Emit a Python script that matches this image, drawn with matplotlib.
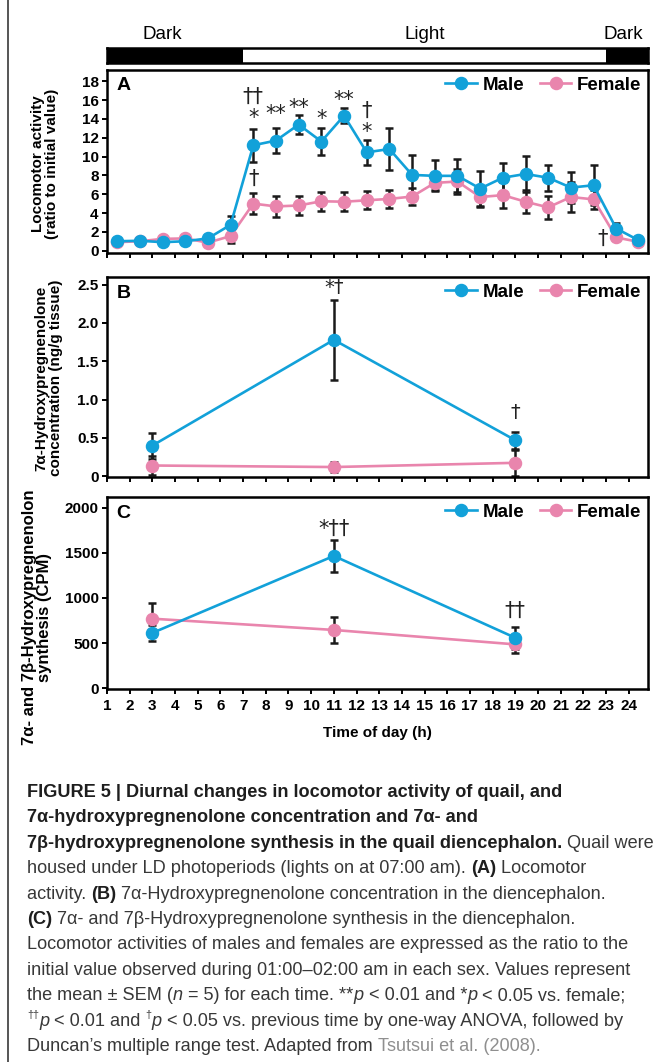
import numpy as np
import matplotlib
matplotlib.use('Agg')
import matplotlib.pyplot as plt
from matplotlib import font_manager as fm
from matplotlib.lines import Line2D

# ---------------- data ----------------
hours = list(range(1, 25))
time_A = [1.45, 2.45, 3.45, 4.45, 5.45, 6.45, 7.45, 8.45, 9.45, 10.45, 11.45, 12.45,
          13.45, 14.45, 15.45, 16.45, 17.45, 18.45, 19.45, 20.45, 21.45, 22.45, 23.45, 24.4]
male_A = [1.0, 1.05, 0.9, 1.0, 1.3, 2.75, 11.2, 11.7, 13.4, 11.6, 14.35, 10.45,
          10.8, 8.05, 7.95, 7.95, 6.6, 7.75, 8.15, 7.75, 6.7, 6.95, 2.35, 1.15]
male_A_sem = [0.15, 0.1, 0.15, 0.15, 0.25, 0.9, 1.75, 1.35, 1.0, 1.45, 0.8, 1.35,
              2.2, 2.1, 1.65, 1.75, 1.9, 1.55, 1.9, 1.4, 1.65, 2.1, 0.6, 0.2]
female_A = [0.9, 1.0, 1.25, 1.3, 0.85, 1.55, 5.0, 4.7, 4.8, 5.25, 5.2, 5.35,
            5.5, 5.75, 7.2, 7.35, 5.7, 5.9, 5.2, 4.6, 5.7, 5.45, 1.4, 0.95]
female_A_sem = [0.1, 0.1, 0.2, 0.2, 0.2, 0.7, 1.15, 1.1, 1.0, 1.0, 1.0, 0.95,
                0.95, 0.9, 0.8, 1.3, 1.1, 1.4, 1.2, 1.25, 1.6, 1.0, 0.3, 0.15]

time_BC = [3, 11, 19]
male_B = [0.40, 1.78, 0.47]
male_B_sem = [0.17, 0.52, 0.11]
female_B = [0.14, 0.12, 0.175]
female_B_sem = [0.12, 0.07, 0.17]

male_C = [612, 1466, 558]
male_C_sem = [90, 180, 125]
female_C = [770, 645, 485]
female_C_sem = [175, 140, 100]

lights_on, lights_off = 7, 23

ann_A = [(7.45, 16.3, "††"), (7.45, 14.1, "*"), (8.45, 14.5, "**"), (9.45, 15.2, "**"),
         (10.45, 14.0, "*"), (11.45, 16.0, "**"), (12.45, 14.9, "†"), (12.45, 12.6, "*"),
         (7.45, 7.6, "†"), (22.85, 1.3, "†")]
ann_B = [(11, 2.46, "*†"), (19, 0.83, "†")]
ann_C = [(11, 1770, "*††"), (19, 860, "††")]

# ---------------- style ----------------
W, H = 660, 1062
names = {f.name for f in fm.fontManager.ttflist}
SANS = 'Liberation Sans' if 'Liberation Sans' in names else 'DejaVu Sans'
NARROW = 'Liberation Sans Narrow' if 'Liberation Sans Narrow' in names else SANS
plt.rcParams['font.family'] = [SANS, 'DejaVu Sans']

MALE = '#12a1d9'
FEMALE = '#e985ad'

fig = plt.figure(figsize=(W / 100, H / 100), dpi=100)


def rect(l, t, r, b):
    return [l / W, 1 - b / H, (r - l) / W, (b - t) / H]


XMIN, XMAX = 1.0, 24.85
TICKFONT = dict(fontsize=11, fontweight='bold', family=[SANS, 'DejaVu Sans'])


def style_ax(ax, ylim, yticks, yticklabels, show_x):
    ax.set_xlim(XMIN, XMAX)
    ax.set_ylim(*ylim)
    ax.set_xticks(hours)
    ax.set_yticks(yticks)
    ax.set_yticklabels(yticklabels, **TICKFONT)
    if show_x:
        ax.set_xticklabels([str(h) for h in hours], **TICKFONT)
    else:
        ax.set_xticklabels([])
    for s in ax.spines.values():
        s.set_linewidth(1.8)
        s.set_color('black')
    ax.tick_params(axis='y', direction='out', length=3.5, width=1.4, pad=2.5, colors='black')
    ax.tick_params(axis='x', direction='out', length=3.5, width=1.4, pad=4, colors='black')


def draw_series(ax, x, m, ms, f, fs):
    ax.errorbar(x, m, yerr=ms, fmt='none', ecolor='#1a1a1a', elinewidth=1.8, capsize=2.8, capthick=1.8, zorder=2)
    ax.errorbar(x, f, yerr=fs, fmt='none', ecolor='#1a1a1a', elinewidth=1.8, capsize=2.8, capthick=1.8, zorder=2)
    lf, = ax.plot(x, f, '-o', color=FEMALE, lw=1.9, ms=8.7, mec=FEMALE, zorder=3, label='Female')
    lm, = ax.plot(x, m, '-o', color=MALE, lw=1.9, ms=8.7, mec=MALE, zorder=4, label='Male')
    ax.legend(handles=[lm, lf], loc='upper right', ncol=2, frameon=False,
              prop={'family': SANS, 'weight': 'bold', 'size': 13.5},
              handlelength=1.7, handletextpad=0.3, columnspacing=0.8,
              borderaxespad=0.2, borderpad=0.15)


def annotate(ax, items, size=15):
    for x, y, s in items:
        ax.text(x, y, s, ha='center', va='center', fontsize=size, color='#222222',
                family=['DejaVu Sans'], zorder=5)


# ---- light/dark bar ----
axbar = fig.add_axes(rect(107, 48, 648, 63))
axbar.set_xlim(XMIN, XMAX)
axbar.set_ylim(0, 1)
axbar.axvspan(XMIN, lights_on, color='black', lw=0)
axbar.axvspan(lights_off, XMAX, color='black', lw=0)
axbar.set_xticks([])
axbar.set_yticks([])
for s in axbar.spines.values():
    s.set_linewidth(1.8)
axbar.text(3.45, 1.3, 'Dark', ha='center', va='bottom', fontsize=13.5)
axbar.text(15.0, 1.3, 'Light', ha='center', va='bottom', fontsize=13.5)
axbar.text(23.75, 1.3, 'Dark', ha='center', va='bottom', fontsize=13.5)

# ---- panel A ----
axA = fig.add_axes(rect(107, 70, 648, 253))
style_ax(axA, (-0.25, 19.2), list(range(0, 19, 2)), [str(v) for v in range(0, 19, 2)], False)
draw_series(axA, time_A, male_A, male_A_sem, female_A, female_A_sem)
annotate(axA, ann_A)
axA.text(0.018, 0.96, 'A', transform=axA.transAxes, fontsize=14, fontweight='bold', va='top', ha='left')

# ---- panel B ----
axB = fig.add_axes(rect(107, 277, 648, 477))
style_ax(axB, (-0.01, 2.6), [0, 0.5, 1.0, 1.5, 2.0, 2.5], ['0', '0.5', '1.0', '1.5', '2.0', '2.5'], False)
draw_series(axB, time_BC, male_B, male_B_sem, female_B, female_B_sem)
annotate(axB, ann_B, size=14)
axB.text(0.018, 0.96, 'B', transform=axB.transAxes, fontsize=14, fontweight='bold', va='top', ha='left')

# ---- panel C ----
axC = fig.add_axes(rect(107, 497, 648, 689))
style_ax(axC, (-10, 2120), [0, 500, 1000, 1500, 2000], ['0', '500', '1000', '1500', '2000'], True)
draw_series(axC, time_BC, male_C, male_C_sem, female_C, female_C_sem)
annotate(axC, ann_C)
axC.text(0.018, 0.96, 'C', transform=axC.transAxes, fontsize=14, fontweight='bold', va='top', ha='left')
fig.text(377 / W, 1 - 733 / H, 'Time of day (h)', ha='center', va='center', fontsize=11, fontweight='bold')

# ---- y labels ----
ylab = dict(rotation=90, ha='center', va='center', fontsize=11, fontweight='bold',
            linespacing=1.05, family=[SANS, 'DejaVu Sans'])
fig.text(45 / W, 1 - 164 / H, 'Locomotor activity\n(ratio to initial value)', **ylab)
fig.text(49 / W, 1 - 378 / H, '7α-Hydroxypregnenolone\nconcentration (ng/g tissue)', **ylab)
ylabC = dict(ylab)
ylabC['fontsize'] = 12
fig.text(37 / W, 1 - 617 / H, '7α- and 7β-Hydroxypregnenolon\nsynthesis (CPM)', **ylabC)

# ---- left page border ----
fig.add_artist(Line2D([8 / W, 8 / W], [0, 1], color='#555555', lw=1.4))

# ---- caption ----
caption_lines = [
    [("FIGURE 5 | Diurnal changes in locomotor activity of quail, and", "b")],
    [("7α-hydroxypregnenolone concentration and 7α- and", "b")],
    [("7β-hydroxypregnenolone synthesis in the quail diencephalon.", "b"), (" Quail were", "")],
    [("housed under LD photoperiods (lights on at 07:00 am). ", ""), ("(A)", "b"), (" Locomotor", "")],
    [("activity. ", ""), ("(B)", "b"), (" 7α-Hydroxypregnenolone concentration in the diencephalon.", "")],
    [("(C)", "b"), (" 7α- and 7β-Hydroxypregnenolone synthesis in the diencephalon.", "")],
    [("Locomotor activities of males and females are expressed as the ratio to the", "")],
    [("initial value observed during 01:00–02:00 am in each sex. Values represent", "")],
    [("the mean ± SEM (", ""), ("n", "i"), (" = 5) for each time. **", ""), ("p", "i"),
     (" < 0.01 and *", ""), ("p", "i"), (" < 0.05 vs. female;", "")],
    [("††", "s"), ("p", "i"), (" < 0.01 and ", ""), ("†", "s"), ("p", "i"),
     (" < 0.05 vs. previous time by one-way ANOVA, followed by", "")],
    [("Duncan’s multiple range test. Adapted from ", ""), ("Tsutsui et al. (2008).", "g")],
]

renderer = fig.canvas.get_renderer()


def seg_kw(style, size):
    kw = dict(fontsize=size, family=[NARROW, 'DejaVu Sans'], color='#383838')
    if 'b' in style:
        kw['fontweight'] = 'bold'
        kw['color'] = '#1e1e1e'
    if 'i' in style:
        kw['fontstyle'] = 'italic'
    if 's' in style:
        kw['fontsize'] = size * 0.6
    if 'g' in style:
        kw['color'] = '#8f8f8f'
    return kw


def text_width(s, kw):
    t1 = fig.text(0, 0, s + '|', **kw)
    t2 = fig.text(0, 0, '|', **kw)
    w = t1.get_window_extent(renderer).width - t2.get_window_extent(renderer).width
    t1.remove()
    t2.remove()
    return w


def line_width(line, size):
    return sum(text_width(s, seg_kw(st, size)) for s, st in line)


ref_size = 12.0
scale = min(608.0 / line_width(caption_lines[6], ref_size),
            624.0 / line_width(caption_lines[2], ref_size))
cap_size = ref_size * scale

x0, base0, step = 27.0, 797.0, 25.4
for i, line in enumerate(caption_lines):
    x = x0
    yb = base0 + i * step
    for s, st in line:
        kw = seg_kw(st, cap_size)
        dy = cap_size * 0.55 if 's' in st else 0.0
        fig.text(x / W, 1 - (yb - dy) / H, s, ha='left', va='baseline', **kw)
        x += text_width(s, kw)

fig.savefig('out.png', dpi=100)
